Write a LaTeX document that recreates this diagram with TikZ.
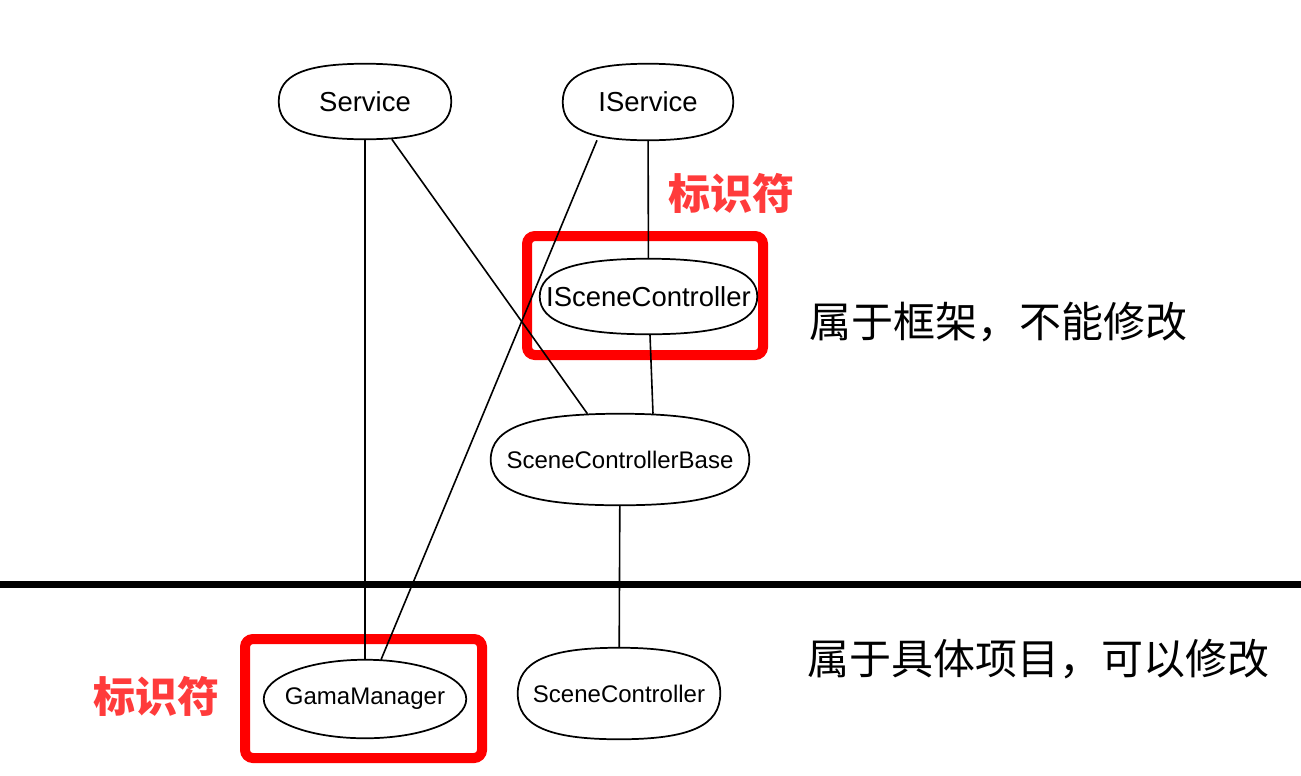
\documentclass[tikz,border=0pt]{standalone}
\usepackage{fontspec}
\setmainfont{Liberation Sans}
\newfontfamily\cjk{Noto Sans CJK SC}
\usetikzlibrary{calc}
\newcommand{\sqbord}[2]{%
  \draw[outline] (#1.east)
    .. controls ($(#1.east)!#2!(#1.north east)$) and ($(#1.north)!#2!(#1.north east)$) .. (#1.north)
    .. controls ($(#1.north)!#2!(#1.north west)$) and ($(#1.west)!#2!(#1.north west)$) .. (#1.west)
    .. controls ($(#1.west)!#2!(#1.south west)$) and ($(#1.south)!#2!(#1.south west)$) .. (#1.south)
    .. controls ($(#1.south)!#2!(#1.south east)$) and ($(#1.east)!#2!(#1.south east)$) .. (#1.east) -- cycle;}
\definecolor{markred}{RGB}{255,0,0}
\definecolor{labelred}{RGB}{255,59,59}
\tikzset{
  outline/.style={draw=black,line width=1.3pt},
  boxnode/.style={rectangle,draw=none,inner sep=0pt},
  bigtext/.style={font=\fontsize{20.6pt}{24pt}\selectfont},
  smalltext/.style={font=\fontsize{18pt}{21pt}\selectfont},
  conn/.style={draw=black,line width=1.2pt},
  markbox/.style={draw=markred,line width=7.5pt,rounded corners=6pt},
  marklabel/.style={text=labelred,font=\cjk\bfseries\fontsize{31.5pt}{36pt}\selectfont,inner sep=0pt},
  note/.style={text=black,font=\cjk\fontsize{31.5pt}{36pt}\selectfont,inner sep=0pt},
  divider/.style={draw=black,line width=5.25pt}
}
\begin{document}
\begin{tikzpicture}[x=0.75pt,y=-0.75pt]
\useasboundingbox (0,0) rectangle (1301,775);
\fill[white] (0,0) rectangle (1301,775);

% red marker boxes
\draw[markbox] (527,236) rectangle (763,355);
\draw[markbox] (245,639) rectangle (482,758);

% nodes
\node[boxnode,bigtext,minimum width=129pt,minimum height=56.25pt] (Service) at (365,101.5) {Service};
\node[boxnode,bigtext,minimum width=127.5pt,minimum height=57pt] (IService) at (648,102) {IService};
\node[boxnode,bigtext,minimum width=162.75pt,minimum height=56.25pt] (ISceneController) at (648.5,296.5) {ISceneController};
\node[boxnode,smalltext,minimum width=193.5pt,minimum height=68.25pt] (SCB) at (620,459.5) {SceneControllerBase};
\node[boxnode,smalltext,minimum width=151.5pt,minimum height=68.25pt] (SceneController) at (619,693.5) {SceneController};
\node[boxnode,smalltext,minimum width=151.5pt,minimum height=58.5pt] (GamaManager) at (365,699) {GamaManager};

\sqbord{Service}{0.7}
\sqbord{IService}{0.7}
\sqbord{ISceneController}{0.68}
\sqbord{SCB}{0.7}
\sqbord{SceneController}{0.7}
\sqbord{GamaManager}{0.56}

% connectors
\draw[conn] (Service) -- (GamaManager);
\draw[conn] (Service) -- (SCB);
\draw[conn] ([xshift=-38.25pt]IService.south) -- ([xshift=12pt]GamaManager.north);
\draw[conn] (IService) -- (ISceneController);
\draw[conn] ([xshift=1.1pt]ISceneController.south) -- ([xshift=24.75pt]SCB.north);
\draw[conn] (SCB) -- (SceneController);

% divider
\coordinate (divL) at (0,584.7);
\coordinate (divR) at (1301,584.7);
\draw[divider] (divL) -- (divR);

% labels
\node[marklabel] (mark1) at (731,193) {标识符};
\node[marklabel] (mark2) at (156,696) {标识符};
\node[note] (note1) at (998,322) {属于框架，不能修改};
\node[note] (note2) at (1038,659) {属于具体项目，可以修改};
\end{tikzpicture}
\end{document}
